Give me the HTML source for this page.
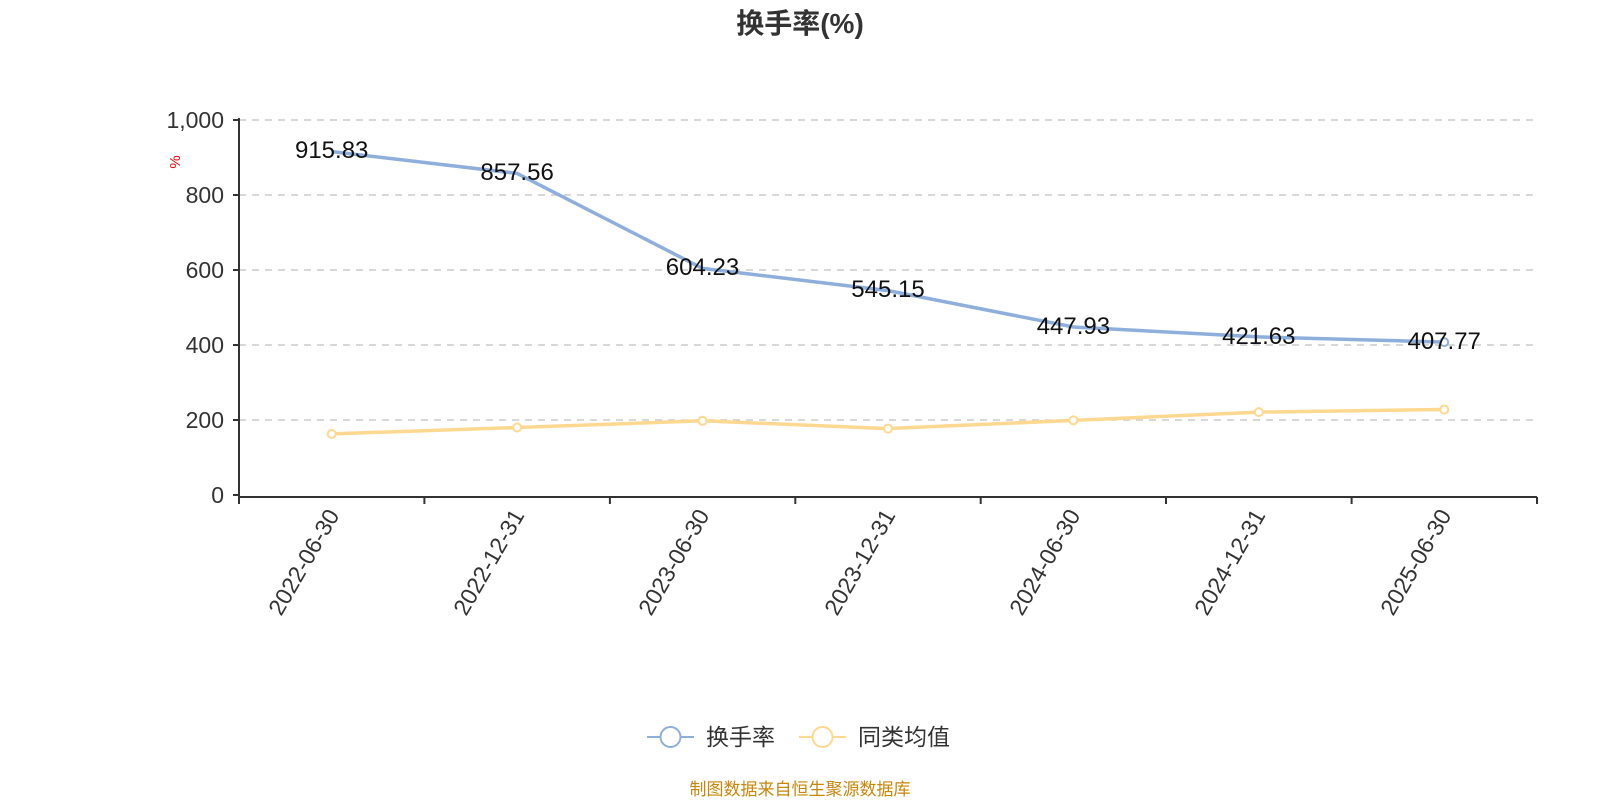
<!DOCTYPE html><html><head><meta charset="utf-8"><style>body{margin:0;background:#fff}svg{display:block}text{font-family:"Liberation Sans","Noto Sans CJK SC",sans-serif}</style></head><body>
<svg width="1600" height="800" viewBox="0 0 1600 800">
<text x="800" y="33" text-anchor="middle" font-size="28" font-weight="bold" fill="#333">换手率(%)</text>
<g stroke="#ccc" stroke-width="1.5" stroke-dasharray="7,6">
<line x1="239" x2="1537" y1="120" y2="120"/><line x1="239" x2="1537" y1="195" y2="195"/><line x1="239" x2="1537" y1="270" y2="270"/><line x1="239" x2="1537" y1="345" y2="345"/><line x1="239" x2="1537" y1="420" y2="420"/></g>
<g stroke="#333" stroke-width="2" fill="none"><line x1="239" x2="239" y1="118" y2="497"/><line x1="239" x2="1537" y1="497" y2="497"/>
<path d="M233 120h6M233 195h6M233 270h6M233 345h6M233 420h6M233 495h6M239 497v7M424.4 497v7M609.9 497v7M795.3 497v7M980.7 497v7M1166 497v7M1351.6 497v7M1537 497v7"/></g>
<g font-size="23" fill="#333" text-anchor="end"><text x="224" y="128">1,000</text><text x="224" y="203">800</text><text x="224" y="278">600</text><text x="224" y="353">400</text><text x="224" y="428">200</text><text x="224" y="503">0</text></g>
<text x="180" y="162" font-size="15" fill="red" transform="rotate(-90 180 162)" text-anchor="middle">%</text>
<g font-size="23" fill="#333" text-anchor="end">
<text transform="translate(340,515) rotate(-60)">2022-06-30</text><text transform="translate(525,515) rotate(-60)">2022-12-31</text><text transform="translate(710,515) rotate(-60)">2023-06-30</text><text transform="translate(896,515) rotate(-60)">2023-12-31</text><text transform="translate(1081,515) rotate(-60)">2024-06-30</text><text transform="translate(1266,515) rotate(-60)">2024-12-31</text><text transform="translate(1452,515) rotate(-60)">2025-06-30</text></g>
<polyline fill="none" stroke="#8eaedb" stroke-width="3.5" points="331.7,151.6 517.1,173.4 702.5,268.4 888,290.6 1073.4,327 1258.8,336.9 1444.2,342.1"/>
<polyline fill="none" stroke="#fdd890" stroke-width="3.5" points="331.7,433.9 517.1,427.5 702.5,420.8 888,428.6 1073.4,420.4 1258.8,412.1 1444.2,409.5"/>
<g fill="#fff" stroke="#8eaedb" stroke-width="2"><circle cx="1444.2" cy="342.1" r="4"/></g>
<g fill="#fff" stroke="#fdd890" stroke-width="2"><circle cx="331.7" cy="433.9" r="4"/><circle cx="517.1" cy="427.5" r="4"/><circle cx="702.5" cy="420.8" r="4"/><circle cx="888" cy="428.6" r="4"/><circle cx="1073.4" cy="420.4" r="4"/><circle cx="1258.8" cy="412.1" r="4"/><circle cx="1444.2" cy="409.5" r="4"/></g>
<g font-size="24" fill="#111" text-anchor="middle"><text x="331.7" y="158">915.83</text><text x="517.1" y="180">857.56</text><text x="702.5" y="275">604.23</text><text x="888" y="297">545.15</text><text x="1073.4" y="334">447.93</text><text x="1258.8" y="344">421.63</text><text x="1444.2" y="349">407.77</text></g>
<line x1="647" x2="694" y1="737" y2="737" stroke="#8eaedb" stroke-width="2"/><circle cx="670.5" cy="737" r="10" fill="#fff" stroke="#8eaedb" stroke-width="2"/>
<text x="706" y="745" font-size="23" fill="#333">换手率</text>
<line x1="799" x2="846" y1="737" y2="737" stroke="#fdd890" stroke-width="2"/><circle cx="822.5" cy="737" r="10" fill="#fff" stroke="#fdd890" stroke-width="2"/>
<text x="858" y="745" font-size="23" fill="#333">同类均值</text>
<text x="800" y="795" text-anchor="middle" font-size="17" fill="#c8860a">制图数据来自恒生聚源数据库</text>
</svg></body></html>
